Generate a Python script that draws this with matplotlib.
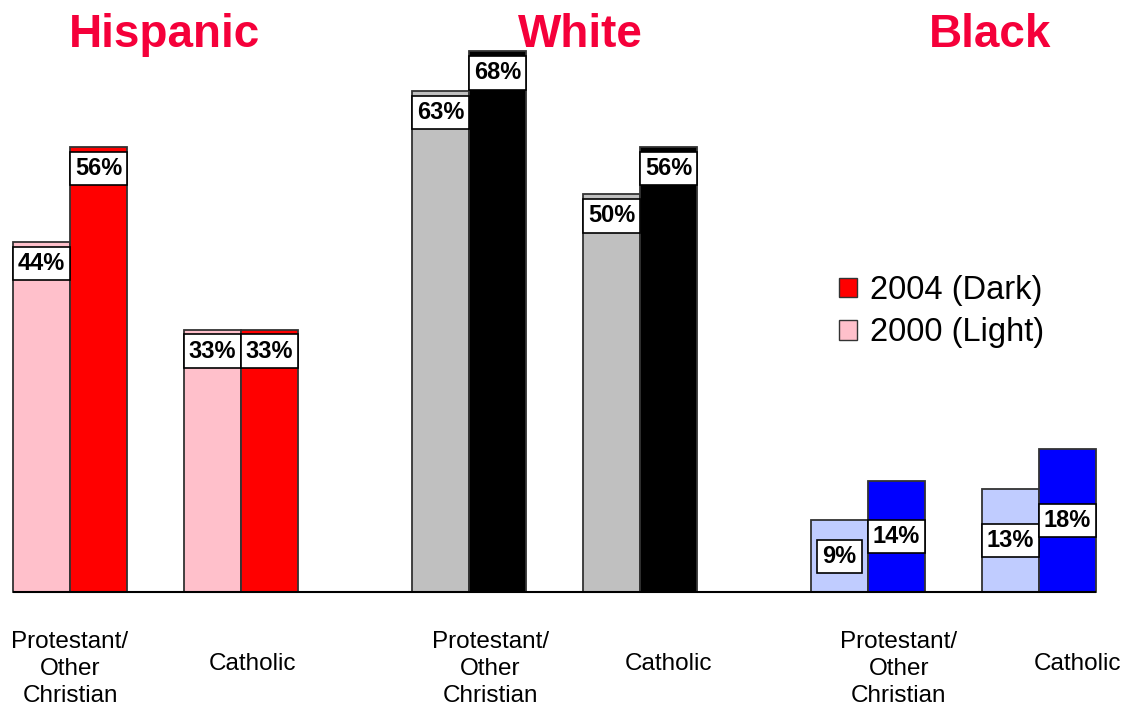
import matplotlib
matplotlib.use("Agg")
import matplotlib.pyplot as plt
from matplotlib.patches import Patch

plt.rcParams['font.family'] = ['Liberation Sans', 'DejaVu Sans']

# ---- data ----
groups = ["Hispanic", "White", "Black"]
categories = ["Protestant/\nOther\nChristian", "Catholic"]
values_2000 = [[44, 33], [63, 50], [9, 13]]
values_2004 = [[56, 33], [68, 56], [14, 18]]
legend_labels = ["2004 (Dark)", "2000 (Light)"]

# ---- styles ----
light_colors = ["#FFC0CB", "#C0C0C0", "#C0CCFF"]
dark_colors = ["#FF0000", "#000000", "#0000FF"]
label_place = ["top", "top", "middle"]
title_color = "#F5003A"
edge = "#333333"

group_step = 7.0
cat_step = 3.0
bar_w = 1.0

fig = plt.figure(figsize=(11.27, 7.11), dpi=100)
ax = fig.add_axes([0, 0, 1, 1])
ax.set_xlim(-70 / 57, (1127 - 70) / 57)
ax.set_ylim(-(711 - 592) / 7.95, 592 / 7.95)
ax.axis("off")

def add_label(x, v, place):
    y = v - 2.7 if place == "top" else v / 2
    ax.text(x, y, f"{v}%", ha="center", va="center", fontsize=17,
            fontweight="bold", color="black", zorder=5,
            bbox=dict(boxstyle="square,pad=0.22", fc="white", ec="black", lw=1.2))

for g, grp in enumerate(groups):
    for c, cat in enumerate(categories):
        x0 = g * group_step + c * cat_step
        v0 = values_2000[g][c]
        v1 = values_2004[g][c]
        ax.bar(x0 - bar_w / 2, v0, width=bar_w, color=light_colors[g],
               edgecolor=edge, linewidth=1.3, zorder=2)
        ax.bar(x0 + bar_w / 2, v1, width=bar_w, color=dark_colors[g],
               edgecolor=edge, linewidth=1.3, zorder=2)
        add_label(x0 - bar_w / 2, v0, label_place[g])
        add_label(x0 + bar_w / 2, v1, label_place[g])

# baseline
n_groups = len(groups)
ax.hlines(0, -bar_w, (n_groups - 1) * group_step + cat_step + bar_w,
          color="black", linewidth=1.5, zorder=3)

# group titles
title_x = [1.65, 8.95, 16.14]
for g, grp in enumerate(groups):
    ax.text(title_x[g], 68.5, grp, ha="center", va="baseline", fontsize=33,
            fontweight="bold", color=title_color)

# category labels
cat_x = [[0.0, 3.2], [7.37, 10.5], [14.54, 17.67]]
cat_y = [-9.7, -9.1]
for g in range(n_groups):
    for c, cat in enumerate(categories):
        ax.text(cat_x[g][c], cat_y[c], cat, ha="center", va="center",
                multialignment="center", fontsize=17.5, color="black",
                linespacing=1.3)

# legend
handles = [Patch(facecolor=dark_colors[0], edgecolor=edge, linewidth=1.0),
           Patch(facecolor=light_colors[0], edgecolor=edge, linewidth=1.0)]
ax.legend(handles, legend_labels, loc="upper left",
          bbox_to_anchor=(839 / 1127, 1 - 275 / 711), frameon=False,
          fontsize=23.5, handlelength=0.55, handleheight=0.55,
          handletextpad=0.4, labelspacing=0.35, borderpad=0, borderaxespad=0)

fig.savefig("out.png", dpi=100)
